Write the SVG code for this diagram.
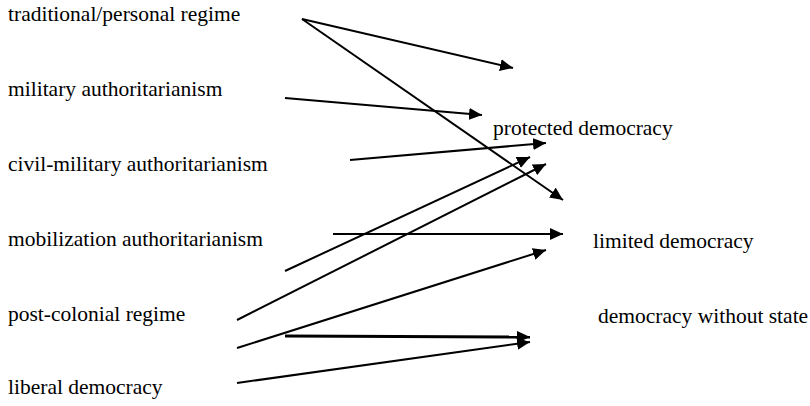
<svg xmlns="http://www.w3.org/2000/svg" width="810" height="406" viewBox="0 0 810 406">
<style>
text{font-family:"Liberation Serif","Times New Roman",serif;font-size:21.5px;fill:#000}
.c line{stroke:#000;stroke-width:2;fill:none;marker-end:url(#ah)}
.c line.thick{stroke-width:3}
</style>
<defs>
<marker id="ah" markerUnits="userSpaceOnUse" markerWidth="14" markerHeight="12" viewBox="0 0 14 12" refX="13" refY="6" orient="auto">
<path d="M0,0 L13,6 L0,12 Z" fill="#000"/>
</marker>
</defs>
<rect width="810" height="406" fill="#fff"/>
<g id="n-traditional"><text x="8" y="21">traditional/personal regime</text></g>
<g id="n-military"><text x="8" y="96">military authoritarianism</text></g>
<g id="n-civil-military"><text x="8" y="171">civil-military authoritarianism</text></g>
<g id="n-mobilization"><text x="8" y="246">mobilization authoritarianism</text></g>
<g id="n-post-colonial"><text x="8" y="321">post-colonial regime</text></g>
<g id="n-liberal"><text x="8" y="394">liberal democracy</text></g>
<g id="n-protected"><text x="493" y="135">protected democracy</text></g>
<g id="n-limited"><text x="593" y="248">limited democracy</text></g>
<g id="n-without-state"><text x="598" y="323">democracy without state</text></g>
<g class="c" id="connectors">
<line x1="302" y1="19" x2="513" y2="68"/>
<line x1="302" y1="19" x2="563" y2="200"/>
<line x1="285" y1="98" x2="482" y2="115"/>
<line x1="350" y1="160" x2="546" y2="143"/>
<line x1="285" y1="271" x2="530" y2="157"/>
<line x1="237" y1="320" x2="546" y2="164"/>
<line x1="333" y1="234" x2="563" y2="234"/>
<line x1="237" y1="348" x2="546" y2="250"/>
<line class="thick" x1="285" y1="336" x2="530" y2="337"/>
<line x1="237" y1="383" x2="530" y2="342"/>
</g>
</svg>
